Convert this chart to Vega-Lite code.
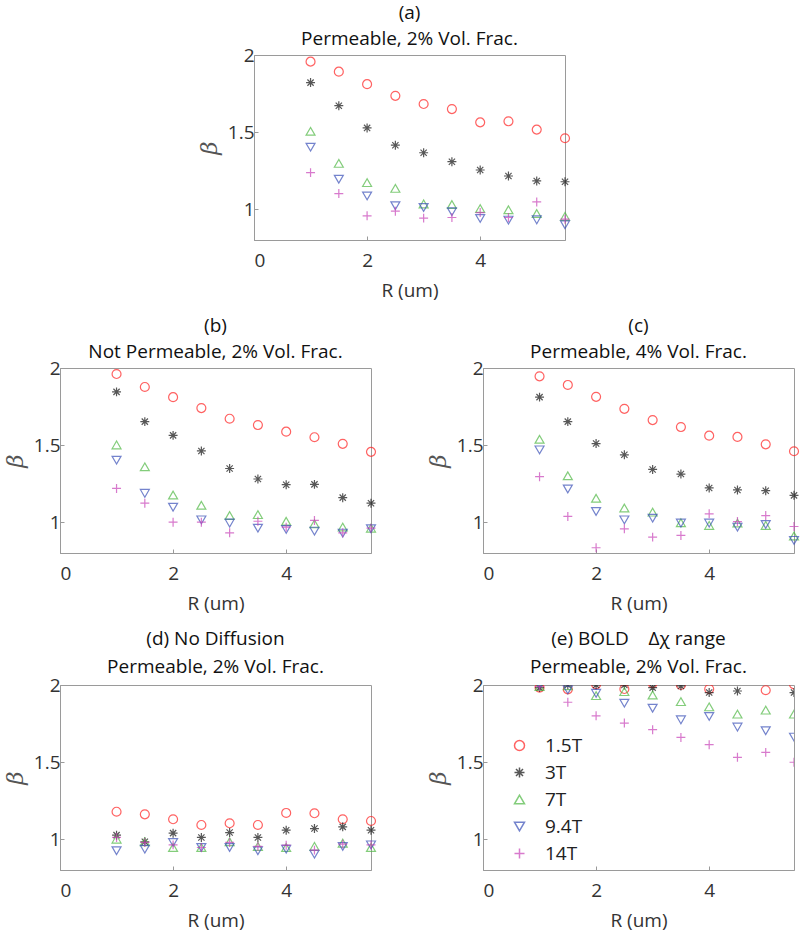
{
  "$schema": "https://vega.github.io/schema/vega-lite/v6.json",
  "padding": {"left": 3, "top": 3, "right": 0, "bottom": 0},
  "background": "white",
  "config": {
    "font": "Open Sans",
    "view": {"stroke": "#9a9a9a", "strokeWidth": 1},
    "title": {"fontSize": 19, "fontWeight": "normal", "color": "#111", "lineHeight": 26, "offset": -3, "font": "Open Sans"},
    "axis": {
      "labelFontSize": 19, "labelColor": "#333", "labelFont": "Open Sans",
      "titleFontSize": 19, "titleFontWeight": "normal", "titleColor": "#333", "titleFont": "Open Sans",
      "domainColor": "#9a9a9a", "tickColor": "#9a9a9a", "tickSize": -4, "grid": false
    },
    "axisX": {"labelPadding": 15, "titlePadding": 11},
    "axisY": {"labelPadding": 4, "titlePadding": 6, "titleFontStyle": "italic", "titleFontSize": 23, "titleColor": "#555", "titleFont": "DejaVu Serif"},
    "legend": {"labelFontSize": 19, "labelColor": "#222", "labelFont": "Open Sans"}
  },
  "datasets": {
    "a": [
      {"R":1,"beta":1.957,"field":"1.5T"},{"R":1.5,"beta":1.892,"field":"1.5T"},{"R":2,"beta":1.811,"field":"1.5T"},{"R":2.5,"beta":1.735,"field":"1.5T"},{"R":3,"beta":1.682,"field":"1.5T"},{"R":3.5,"beta":1.649,"field":"1.5T"},{"R":4,"beta":1.563,"field":"1.5T"},{"R":4.5,"beta":1.570,"field":"1.5T"},{"R":5,"beta":1.516,"field":"1.5T"},{"R":5.5,"beta":1.460,"field":"1.5T"},
      {"R":1,"beta":1.821,"field":"3T"},{"R":1.5,"beta":1.671,"field":"3T"},{"R":2,"beta":1.527,"field":"3T"},{"R":2.5,"beta":1.415,"field":"3T"},{"R":3,"beta":1.366,"field":"3T"},{"R":3.5,"beta":1.308,"field":"3T"},{"R":4,"beta":1.254,"field":"3T"},{"R":4.5,"beta":1.215,"field":"3T"},{"R":5,"beta":1.183,"field":"3T"},{"R":5.5,"beta":1.178,"field":"3T"},
      {"R":1,"beta":1.505,"field":"7T"},{"R":1.5,"beta":1.297,"field":"7T"},{"R":2,"beta":1.172,"field":"7T"},{"R":2.5,"beta":1.135,"field":"7T"},{"R":3,"beta":1.034,"field":"7T"},{"R":3.5,"beta":1.030,"field":"7T"},{"R":4,"beta":1.004,"field":"7T"},{"R":4.5,"beta":0.996,"field":"7T"},{"R":5,"beta":0.972,"field":"7T"},{"R":5.5,"beta":0.953,"field":"7T"},
      {"R":1,"beta":1.402,"field":"9.4T"},{"R":1.5,"beta":1.194,"field":"9.4T"},{"R":2,"beta":1.086,"field":"9.4T"},{"R":2.5,"beta":1.022,"field":"9.4T"},{"R":3,"beta":1.011,"field":"9.4T"},{"R":3.5,"beta":0.983,"field":"9.4T"},{"R":4,"beta":0.940,"field":"9.4T"},{"R":4.5,"beta":0.929,"field":"9.4T"},{"R":5,"beta":0.931,"field":"9.4T"},{"R":5.5,"beta":0.899,"field":"9.4T"},
      {"R":1,"beta":1.237,"field":"14T"},{"R":1.5,"beta":1.101,"field":"14T"},{"R":2,"beta":0.957,"field":"14T"},{"R":2.5,"beta":0.987,"field":"14T"},{"R":3,"beta":0.942,"field":"14T"},{"R":3.5,"beta":0.946,"field":"14T"},{"R":4,"beta":0.978,"field":"14T"},{"R":4.5,"beta":0.946,"field":"14T"},{"R":5,"beta":1.047,"field":"14T"},{"R":5.5,"beta":0.935,"field":"14T"}
    ],
    "b": [
      {"R":1,"beta":1.961,"field":"1.5T"},{"R":1.5,"beta":1.877,"field":"1.5T"},{"R":2,"beta":1.811,"field":"1.5T"},{"R":2.5,"beta":1.740,"field":"1.5T"},{"R":3,"beta":1.671,"field":"1.5T"},{"R":3.5,"beta":1.630,"field":"1.5T"},{"R":4,"beta":1.587,"field":"1.5T"},{"R":4.5,"beta":1.551,"field":"1.5T"},{"R":5,"beta":1.508,"field":"1.5T"},{"R":5.5,"beta":1.456,"field":"1.5T"},
      {"R":1,"beta":1.845,"field":"3T"},{"R":1.5,"beta":1.652,"field":"3T"},{"R":2,"beta":1.563,"field":"3T"},{"R":2.5,"beta":1.462,"field":"3T"},{"R":3,"beta":1.348,"field":"3T"},{"R":3.5,"beta":1.280,"field":"3T"},{"R":4,"beta":1.243,"field":"3T"},{"R":4.5,"beta":1.245,"field":"3T"},{"R":5,"beta":1.159,"field":"3T"},{"R":5.5,"beta":1.123,"field":"3T"},
      {"R":1,"beta":1.501,"field":"7T"},{"R":1.5,"beta":1.359,"field":"7T"},{"R":2,"beta":1.176,"field":"7T"},{"R":2.5,"beta":1.110,"field":"7T"},{"R":3,"beta":1.043,"field":"7T"},{"R":3.5,"beta":1.049,"field":"7T"},{"R":4,"beta":1.006,"field":"7T"},{"R":4.5,"beta":0.989,"field":"7T"},{"R":5,"beta":0.968,"field":"7T"},{"R":5.5,"beta":0.961,"field":"7T"},
      {"R":1,"beta":1.402,"field":"9.4T"},{"R":1.5,"beta":1.187,"field":"9.4T"},{"R":2,"beta":1.097,"field":"9.4T"},{"R":2.5,"beta":1.015,"field":"9.4T"},{"R":3,"beta":0.994,"field":"9.4T"},{"R":3.5,"beta":0.961,"field":"9.4T"},{"R":4,"beta":0.953,"field":"9.4T"},{"R":4.5,"beta":0.942,"field":"9.4T"},{"R":5,"beta":0.929,"field":"9.4T"},{"R":5.5,"beta":0.957,"field":"9.4T"},
      {"R":1,"beta":1.219,"field":"14T"},{"R":1.5,"beta":1.123,"field":"14T"},{"R":2,"beta":1.000,"field":"14T"},{"R":2.5,"beta":1.000,"field":"14T"},{"R":3,"beta":0.931,"field":"14T"},{"R":3.5,"beta":1.006,"field":"14T"},{"R":4,"beta":0.968,"field":"14T"},{"R":4.5,"beta":1.011,"field":"14T"},{"R":5,"beta":0.931,"field":"14T"},{"R":5.5,"beta":0.961,"field":"14T"}
    ],
    "c": [
      {"R":1,"beta":1.946,"field":"1.5T"},{"R":1.5,"beta":1.890,"field":"1.5T"},{"R":2,"beta":1.813,"field":"1.5T"},{"R":2.5,"beta":1.735,"field":"1.5T"},{"R":3,"beta":1.662,"field":"1.5T"},{"R":3.5,"beta":1.617,"field":"1.5T"},{"R":4,"beta":1.561,"field":"1.5T"},{"R":4.5,"beta":1.553,"field":"1.5T"},{"R":5,"beta":1.505,"field":"1.5T"},{"R":5.5,"beta":1.460,"field":"1.5T"},
      {"R":1,"beta":1.811,"field":"3T"},{"R":1.5,"beta":1.652,"field":"3T"},{"R":2,"beta":1.510,"field":"3T"},{"R":2.5,"beta":1.437,"field":"3T"},{"R":3,"beta":1.342,"field":"3T"},{"R":3.5,"beta":1.312,"field":"3T"},{"R":4,"beta":1.222,"field":"3T"},{"R":4.5,"beta":1.209,"field":"3T"},{"R":5,"beta":1.204,"field":"3T"},{"R":5.5,"beta":1.174,"field":"3T"},
      {"R":1,"beta":1.538,"field":"7T"},{"R":1.5,"beta":1.301,"field":"7T"},{"R":2,"beta":1.155,"field":"7T"},{"R":2.5,"beta":1.092,"field":"7T"},{"R":3,"beta":1.065,"field":"7T"},{"R":3.5,"beta":0.996,"field":"7T"},{"R":4,"beta":0.979,"field":"7T"},{"R":4.5,"beta":0.994,"field":"7T"},{"R":5,"beta":0.979,"field":"7T"},{"R":5.5,"beta":0.910,"field":"7T"},
      {"R":1,"beta":1.469,"field":"9.4T"},{"R":1.5,"beta":1.215,"field":"9.4T"},{"R":2,"beta":1.069,"field":"9.4T"},{"R":2.5,"beta":1.015,"field":"9.4T"},{"R":3,"beta":1.026,"field":"9.4T"},{"R":3.5,"beta":0.994,"field":"9.4T"},{"R":4,"beta":0.994,"field":"9.4T"},{"R":4.5,"beta":0.968,"field":"9.4T"},{"R":5,"beta":0.985,"field":"9.4T"},{"R":5.5,"beta":0.882,"field":"9.4T"},
      {"R":1,"beta":1.295,"field":"14T"},{"R":1.5,"beta":1.037,"field":"14T"},{"R":2,"beta":0.834,"field":"14T"},{"R":2.5,"beta":0.957,"field":"14T"},{"R":3,"beta":0.903,"field":"14T"},{"R":3.5,"beta":0.914,"field":"14T"},{"R":4,"beta":1.054,"field":"14T"},{"R":4.5,"beta":1.004,"field":"14T"},{"R":5,"beta":1.043,"field":"14T"},{"R":5.5,"beta":0.972,"field":"14T"}
    ],
    "d": [
      {"R":1,"beta":1.178,"field":"1.5T"},{"R":1.5,"beta":1.161,"field":"1.5T"},{"R":2,"beta":1.129,"field":"1.5T"},{"R":2.5,"beta":1.092,"field":"1.5T"},{"R":3,"beta":1.103,"field":"1.5T"},{"R":3.5,"beta":1.092,"field":"1.5T"},{"R":4,"beta":1.170,"field":"1.5T"},{"R":4.5,"beta":1.168,"field":"1.5T"},{"R":5,"beta":1.129,"field":"1.5T"},{"R":5.5,"beta":1.118,"field":"1.5T"},
      {"R":1,"beta":1.026,"field":"3T"},{"R":1.5,"beta":0.983,"field":"3T"},{"R":2,"beta":1.039,"field":"3T"},{"R":2.5,"beta":1.011,"field":"3T"},{"R":3,"beta":1.043,"field":"3T"},{"R":3.5,"beta":1.011,"field":"3T"},{"R":4,"beta":1.058,"field":"3T"},{"R":4.5,"beta":1.069,"field":"3T"},{"R":5,"beta":1.080,"field":"3T"},{"R":5.5,"beta":1.058,"field":"3T"},
      {"R":1,"beta":1.000,"field":"7T"},{"R":1.5,"beta":0.983,"field":"7T"},{"R":2,"beta":0.946,"field":"7T"},{"R":2.5,"beta":0.946,"field":"7T"},{"R":3,"beta":0.983,"field":"7T"},{"R":3.5,"beta":0.953,"field":"7T"},{"R":4,"beta":0.946,"field":"7T"},{"R":4.5,"beta":0.953,"field":"7T"},{"R":5,"beta":0.974,"field":"7T"},{"R":5.5,"beta":0.946,"field":"7T"},
      {"R":1,"beta":0.925,"field":"9.4T"},{"R":1.5,"beta":0.935,"field":"9.4T"},{"R":2,"beta":0.979,"field":"9.4T"},{"R":2.5,"beta":0.946,"field":"9.4T"},{"R":3,"beta":0.946,"field":"9.4T"},{"R":3.5,"beta":0.925,"field":"9.4T"},{"R":4,"beta":0.935,"field":"9.4T"},{"R":4.5,"beta":0.903,"field":"9.4T"},{"R":5,"beta":0.953,"field":"9.4T"},{"R":5.5,"beta":0.963,"field":"9.4T"},
      {"R":1,"beta":1.011,"field":"14T"},{"R":1.5,"beta":0.979,"field":"14T"},{"R":2,"beta":0.963,"field":"14T"},{"R":2.5,"beta":0.946,"field":"14T"},{"R":3,"beta":0.979,"field":"14T"},{"R":3.5,"beta":0.953,"field":"14T"},{"R":4,"beta":0.961,"field":"14T"},{"R":4.5,"beta":0.929,"field":"14T"},{"R":5,"beta":0.968,"field":"14T"},{"R":5.5,"beta":0.963,"field":"14T"}
    ],
    "e": [
      {"R":1,"beta":1.983,"field":"1.5T"},{"R":1.5,"beta":1.972,"field":"1.5T"},{"R":2,"beta":2.004,"field":"1.5T"},{"R":2.5,"beta":1.974,"field":"1.5T"},{"R":3,"beta":2.012,"field":"1.5T"},{"R":3.5,"beta":2.0,"field":"1.5T"},{"R":4,"beta":1.974,"field":"1.5T"},{"R":5,"beta":1.966,"field":"1.5T"},{"R":5.5,"beta":2.004,"field":"1.5T"},
      {"R":1,"beta":1.983,"field":"3T"},{"R":1.5,"beta":2.0,"field":"3T"},{"R":2,"beta":2.0,"field":"3T"},{"R":2.5,"beta":2.0,"field":"3T"},{"R":3,"beta":1.983,"field":"3T"},{"R":3.5,"beta":1.994,"field":"3T"},{"R":4,"beta":1.951,"field":"3T"},{"R":4.5,"beta":1.961,"field":"3T"},{"R":5.5,"beta":1.951,"field":"3T"},
      {"R":1,"beta":1.99,"field":"7T"},{"R":1.5,"beta":1.995,"field":"7T"},{"R":2,"beta":1.931,"field":"7T"},{"R":2.5,"beta":1.957,"field":"7T"},{"R":3,"beta":1.935,"field":"7T"},{"R":3.5,"beta":1.892,"field":"7T"},{"R":4,"beta":1.858,"field":"7T"},{"R":4.5,"beta":1.811,"field":"7T"},{"R":5,"beta":1.837,"field":"7T"},{"R":5.5,"beta":1.811,"field":"7T"},
      {"R":1,"beta":2.004,"field":"9.4T"},{"R":1.5,"beta":1.968,"field":"9.4T"},{"R":2,"beta":1.946,"field":"9.4T"},{"R":2.5,"beta":1.882,"field":"9.4T"},{"R":3,"beta":1.849,"field":"9.4T"},{"R":3.5,"beta":1.774,"field":"9.4T"},{"R":4,"beta":1.796,"field":"9.4T"},{"R":4.5,"beta":1.727,"field":"9.4T"},{"R":5,"beta":1.703,"field":"9.4T"},{"R":5.5,"beta":1.662,"field":"9.4T"},
      {"R":1,"beta":1.99,"field":"14T"},{"R":1.5,"beta":1.888,"field":"14T"},{"R":2,"beta":1.800,"field":"14T"},{"R":2.5,"beta":1.753,"field":"14T"},{"R":3,"beta":1.710,"field":"14T"},{"R":3.5,"beta":1.660,"field":"14T"},{"R":4,"beta":1.613,"field":"14T"},{"R":4.5,"beta":1.531,"field":"14T"},{"R":5,"beta":1.563,"field":"14T"},{"R":5.5,"beta":1.499,"field":"14T"}
    ]
  },
  "vconcat": [
    {
      "vconcat": [
        {
          "hconcat": [
            {
              "width": 137, "height": 10,
              "data": {"values": []},
              "mark": "point",
              "view": {"stroke": null}
            },
            {
              "width": 311, "height": 185,
              "title": {"text": ["(a)", "Permeable, 2% Vol. Frac."]},
              "data": {"name": "a"},
              "mark": {"type": "point", "filled": false, "size": 80, "strokeWidth": 1.2},
              "encoding": {
                "x": {"field": "R", "type": "quantitative", "scale": {"domain": [0, 5.5], "nice": false}, "axis": {"values": [0, 2, 4], "title": "R (um)", "format": "~g"}},
                "y": {"field": "beta", "type": "quantitative", "scale": {"domain": [0.8, 2], "nice": false}, "axis": {"values": [1, 1.5, 2], "title": "β", "format": "~g"}},
                "color": {"field": "field", "type": "nominal", "scale": {"domain": ["1.5T", "3T", "7T", "9.4T", "14T"], "range": ["#ff2020", "#111111", "#4fb844", "#3a50b8", "#c842b8"]}, "legend": null},
                "shape": {"field": "field", "type": "nominal", "scale": {"domain": ["1.5T", "3T", "7T", "9.4T", "14T"], "range": ["circle", "M-1,0L1,0M0,-1L0,1M-0.7,-0.7L0.7,0.7M-0.7,0.7L0.7,-0.7", "triangle-up", "triangle-down", "M-1,0L1,0M0,-1L0,1"]}, "legend": null}
              }
            }
          ],
          "spacing": 0
        },
        {
          "hconcat": [
            {
              "width": 311, "height": 185,
              "title": {"text": ["(b)", "Not Permeable, 2% Vol. Frac."]},
              "data": {"name": "b"},
              "mark": {"type": "point", "filled": false, "size": 80, "strokeWidth": 1.2},
              "encoding": {
                "x": {"field": "R", "type": "quantitative", "scale": {"domain": [0, 5.5], "nice": false}, "axis": {"values": [0, 2, 4], "title": "R (um)", "format": "~g"}},
                "y": {"field": "beta", "type": "quantitative", "scale": {"domain": [0.8, 2], "nice": false}, "axis": {"values": [1, 1.5, 2], "title": "β", "format": "~g"}},
                "color": {"field": "field", "type": "nominal", "scale": {"domain": ["1.5T", "3T", "7T", "9.4T", "14T"], "range": ["#ff2020", "#111111", "#4fb844", "#3a50b8", "#c842b8"]}, "legend": null},
                "shape": {"field": "field", "type": "nominal", "scale": {"domain": ["1.5T", "3T", "7T", "9.4T", "14T"], "range": ["circle", "M-1,0L1,0M0,-1L0,1M-0.7,-0.7L0.7,0.7M-0.7,0.7L0.7,-0.7", "triangle-up", "triangle-down", "M-1,0L1,0M0,-1L0,1"]}, "legend": null}
              }
            },
            {
              "width": 311, "height": 185,
              "title": {"text": ["(c)", "Permeable, 4% Vol. Frac."]},
              "data": {"name": "c"},
              "mark": {"type": "point", "filled": false, "size": 80, "strokeWidth": 1.2},
              "encoding": {
                "x": {"field": "R", "type": "quantitative", "scale": {"domain": [0, 5.5], "nice": false}, "axis": {"values": [0, 2, 4], "title": "R (um)", "format": "~g"}},
                "y": {"field": "beta", "type": "quantitative", "scale": {"domain": [0.8, 2], "nice": false}, "axis": {"values": [1, 1.5, 2], "title": "β", "format": "~g"}},
                "color": {"field": "field", "type": "nominal", "scale": {"domain": ["1.5T", "3T", "7T", "9.4T", "14T"], "range": ["#ff2020", "#111111", "#4fb844", "#3a50b8", "#c842b8"]}, "legend": null},
                "shape": {"field": "field", "type": "nominal", "scale": {"domain": ["1.5T", "3T", "7T", "9.4T", "14T"], "range": ["circle", "M-1,0L1,0M0,-1L0,1M-0.7,-0.7L0.7,0.7M-0.7,0.7L0.7,-0.7", "triangle-up", "triangle-down", "M-1,0L1,0M0,-1L0,1"]}, "legend": null}
              }
            }
          ],
          "spacing": 47,
          "resolve": {"scale": {"color": "independent", "shape": "independent"}, "legend": {"color": "independent", "shape": "independent"}}
        }
      ],
      "spacing": 15,
      "resolve": {"scale": {"color": "independent", "shape": "independent"}, "legend": {"color": "independent", "shape": "independent"}}
    },
    {
      "hconcat": [
        {
          "width": 311, "height": 185,
          "title": {"text": ["(d) No Diffusion", "Permeable, 2% Vol. Frac."], "lineHeight": 28, "offset": -1},
          "data": {"name": "d"},
          "mark": {"type": "point", "filled": false, "size": 80, "strokeWidth": 1.2},
          "encoding": {
            "x": {"field": "R", "type": "quantitative", "scale": {"domain": [0, 5.5], "nice": false}, "axis": {"values": [0, 2, 4], "title": "R (um)", "format": "~g"}},
            "y": {"field": "beta", "type": "quantitative", "scale": {"domain": [0.8, 2], "nice": false}, "axis": {"values": [1, 1.5, 2], "title": "β", "format": "~g"}},
            "color": {"field": "field", "type": "nominal", "scale": {"domain": ["1.5T", "3T", "7T", "9.4T", "14T"], "range": ["#ff2020", "#111111", "#4fb844", "#3a50b8", "#c842b8"]}, "legend": null},
            "shape": {"field": "field", "type": "nominal", "scale": {"domain": ["1.5T", "3T", "7T", "9.4T", "14T"], "range": ["circle", "M-1,0L1,0M0,-1L0,1M-0.7,-0.7L0.7,0.7M-0.7,0.7L0.7,-0.7", "triangle-up", "triangle-down", "M-1,0L1,0M0,-1L0,1"]}, "legend": null}
          }
        },
        {
          "width": 311, "height": 185,
          "title": {"text": ["(e) BOLD \u00a0\u00a0\u00a0Δχ range", "Permeable, 2% Vol. Frac."], "lineHeight": 28, "offset": -1},
          "data": {"name": "e"},
          "mark": {"type": "point", "filled": false, "size": 80, "strokeWidth": 1.2, "clip": true},
          "encoding": {
            "x": {"field": "R", "type": "quantitative", "scale": {"domain": [0, 5.5], "nice": false}, "axis": {"values": [0, 2, 4], "title": "R (um)", "format": "~g"}},
            "y": {"field": "beta", "type": "quantitative", "scale": {"domain": [0.8, 2], "nice": false}, "axis": {"values": [1, 1.5, 2], "title": "β", "format": "~g"}},
            "color": {"field": "field", "type": "nominal", "scale": {"domain": ["1.5T", "3T", "7T", "9.4T", "14T"], "range": ["#ff2020", "#111111", "#4fb844", "#3a50b8", "#c842b8"]}, "legend": {"title": null, "orient": "none", "legendX": 27, "legendY": 51, "rowPadding": 7, "labelOffset": 16, "padding": 0}},
            "shape": {"field": "field", "type": "nominal", "scale": {"domain": ["1.5T", "3T", "7T", "9.4T", "14T"], "range": ["circle", "M-1,0L1,0M0,-1L0,1M-0.7,-0.7L0.7,0.7M-0.7,0.7L0.7,-0.7", "triangle-up", "triangle-down", "M-1,0L1,0M0,-1L0,1"]}, "legend": {"title": null, "orient": "none", "legendX": 27, "legendY": 51, "rowPadding": 7, "labelOffset": 16, "padding": 0}}
          }
        }
      ],
      "spacing": 47,
      "resolve": {"scale": {"color": "independent", "shape": "independent"}, "legend": {"color": "independent", "shape": "independent"}}
    }
  ],
  "spacing": 15,
  "resolve": {"scale": {"color": "independent", "shape": "independent"}, "legend": {"color": "independent", "shape": "independent"}}
}
